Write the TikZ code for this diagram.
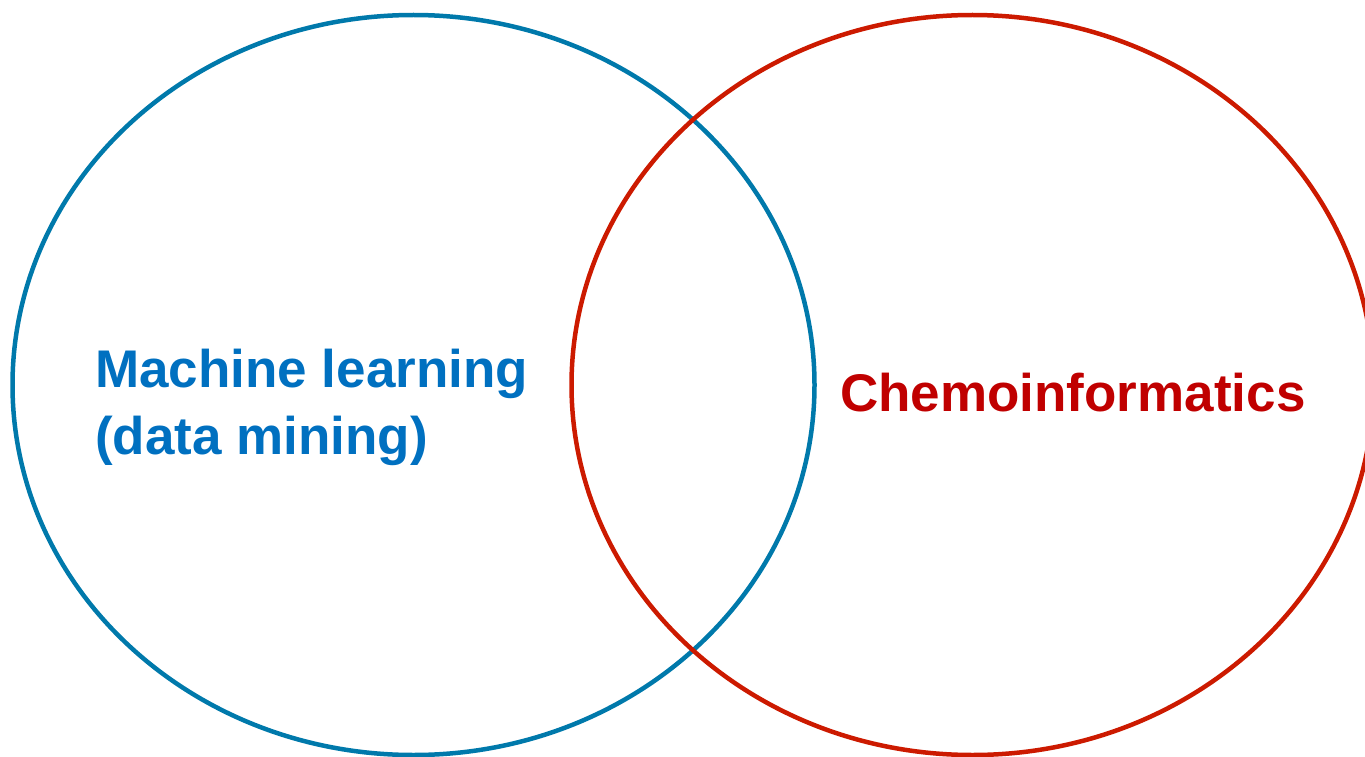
\documentclass[tikz,border=0pt]{standalone}
\usepackage{fontspec}
\setmainfont{Liberation Sans}
\usepackage{xcolor}
\usepackage{tikz}
\usetikzlibrary{
    positioning,
    shapes.geometric
}
\definecolor{mlline}{HTML}{0079AB}
\definecolor{mltext}{HTML}{0070C0}
\definecolor{chline}{HTML}{CC1A00}
\definecolor{chtext}{HTML}{C00000}
\tikzset{
    setcircle/.style={
        ellipse,
        line width=4.5pt,
        minimum width=802pt,
        minimum height=740pt,
        inner sep=0pt
    },
    setlabel/.style={
        align=left,
        inner sep=0pt,
        font=\bfseries\fontsize{53}{67}\selectfont
    }
}

\begin{document}
\begin{tikzpicture}[x=1pt, y=-1pt]
\useasboundingbox (0,0) rectangle (1365,757);
\node[setcircle, draw=mlline] (ml) at (413.5,385) {};
\node[setcircle, draw=chline] (chem) at (972.5,385) {};

\node[setlabel, text=mltext, anchor=west] (mllabel) at (95,407) {Machine learning\\(data mining)};
\node[setlabel, text=chtext, anchor=base west] (chemlabel) at (840,411) {Chemoinformatics};
\end{tikzpicture}
\end{document}
